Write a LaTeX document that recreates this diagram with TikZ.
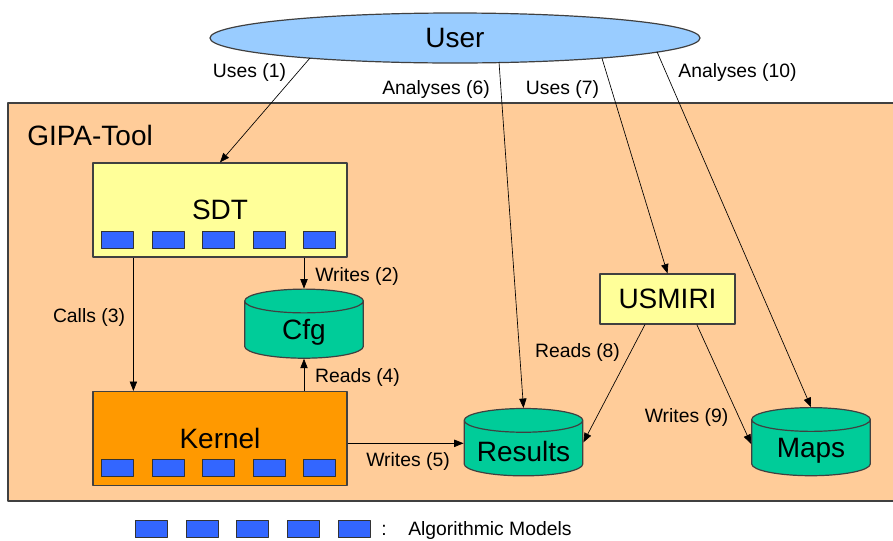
\documentclass[tikz,border=0pt]{standalone}
\usepackage{fontspec}
\setmainfont{Liberation Sans}
\usetikzlibrary{shapes.geometric,arrows.meta}
\definecolor{panel}{HTML}{FFCC99}
\definecolor{userblue}{HTML}{99CCFF}
\definecolor{sdtyellow}{HTML}{FFFF99}
\definecolor{kernelorange}{HTML}{FF9900}
\definecolor{storegreen}{HTML}{00CC99}
\definecolor{algoblue}{HTML}{3366FF}
\definecolor{edge}{HTML}{404040}
\begin{document}
\begin{tikzpicture}[x=0.75pt,y=-0.75pt,line join=round,
  big/.style={font=\fontsize{21}{25}\selectfont},
  small/.style={font=\fontsize{14.5}{17}\selectfont},
  module/.style={draw=edge,line width=0.9pt,fill=#1,minimum width=190.5pt,minimum height=70.5pt,big},
  store/.style={cylinder,shape border rotate=90,aspect=0.2,draw=edge,line width=0.9pt,fill=storegreen,text width=80pt,align=center,inner sep=4.5pt,minimum height=50.5pt,big},
  algo/.style={draw=black!80,line width=0.6pt,fill=algoblue,minimum width=24pt,minimum height=12.75pt,inner sep=0pt},
  flow/.style={-{Triangle[length=7pt,width=5.5pt]},line width=0.5pt},
  lbl/.style={small,inner sep=0pt}]
\useasboundingbox (0,0) rectangle (893,540);
\draw[draw=edge,line width=0.9pt,fill=panel] (8,103) rectangle (905,501);
\node[anchor=west,inner sep=0pt,big] (gipa) at (27,135) {GIPA-Tool};

\node[ellipse,draw=edge,line width=0.9pt,fill=userblue,minimum width=367.5pt,minimum height=37.5pt,big] (user) at (455,38) {User};

\node[module=sdtyellow] (sdt) at (220,210) {SDT};
\node[module=kernelorange] (kernel) at (220,438.5) {Kernel};
\node[module=sdtyellow,minimum width=101.25pt,minimum height=37.5pt] (usmiri) at (667.5,299) {USMIRI};
\foreach \i in {0,...,4} {
    \node[algo] (sdt-a\i) at ([xshift={18.75pt+\i*37.9pt},yshift=13.1pt]sdt.south west) {};
    \node[algo] (kernel-a\i) at ([xshift={18.75pt+\i*37.9pt},yshift=13.5pt]kernel.south west) {};
}

\node[store] (cfg) at (304,332.5) {Cfg};
\node[store] (results) at (523.5,451) {Results};
\node[store] (maps) at (811,450.5) {Maps};

\draw[flow] ([shift={(-145,20)}]user.center) -- (sdt.north);
\draw[flow] ([shift={(44,24)}]user.center) -- (results.north);
\draw[flow] ([shift={(147,20.3)}]user.center) -- (usmiri.north);
\draw[flow] ([shift={(202,13.7)}]user.center) -- (maps.north);
\draw[flow] (sdt.south -| cfg.north) -- (cfg.north);
\draw[flow] ([xshift=30.75pt]sdt.south west) -- ([xshift=30.75pt]kernel.north west);
\draw[flow] (kernel.north -| cfg.south) -- (cfg.south);
\draw[flow] ([yshift=-3.6pt]kernel.east) -- ([yshift=-3.6pt]kernel.east -| results.west);
\draw[flow] ([xshift=-16.9pt]usmiri.south) -- ([yshift=6.5pt]results.east);
\draw[flow] ([xshift=22pt]usmiri.south) -- ([yshift=5pt]maps.west);

\node[lbl] (l1) at (249.5,72) {Uses (1)};
\node[lbl] (l6) at (436,89) {Analyses (6)};
\node[lbl] (l7) at (562.5,89) {Uses (7)};
\node[lbl] (l10) at (737.5,72) {Analyses (10)};
\node[lbl] (l2) at (357,276) {Writes (2)};
\node[lbl] (l3) at (89,317) {Calls (3)};
\node[lbl] (l4) at (357.5,377) {Reads (4)};
\node[lbl] (l5) at (408,461) {Writes (5)};
\node[lbl] (l8) at (577.5,352) {Reads (8)};
\node[lbl] (l9) at (686.5,417) {Writes (9)};

\foreach \i/\x in {0/151,1/202,2/252,3/303,4/354}
    \node[algo] (leg-\i) at (\x,529) {};
\node[lbl] (colon) at (384,530) {:};
\node[lbl,anchor=west] (legend) at (408,530) {Algorithmic Models};
\end{tikzpicture}
\end{document}
